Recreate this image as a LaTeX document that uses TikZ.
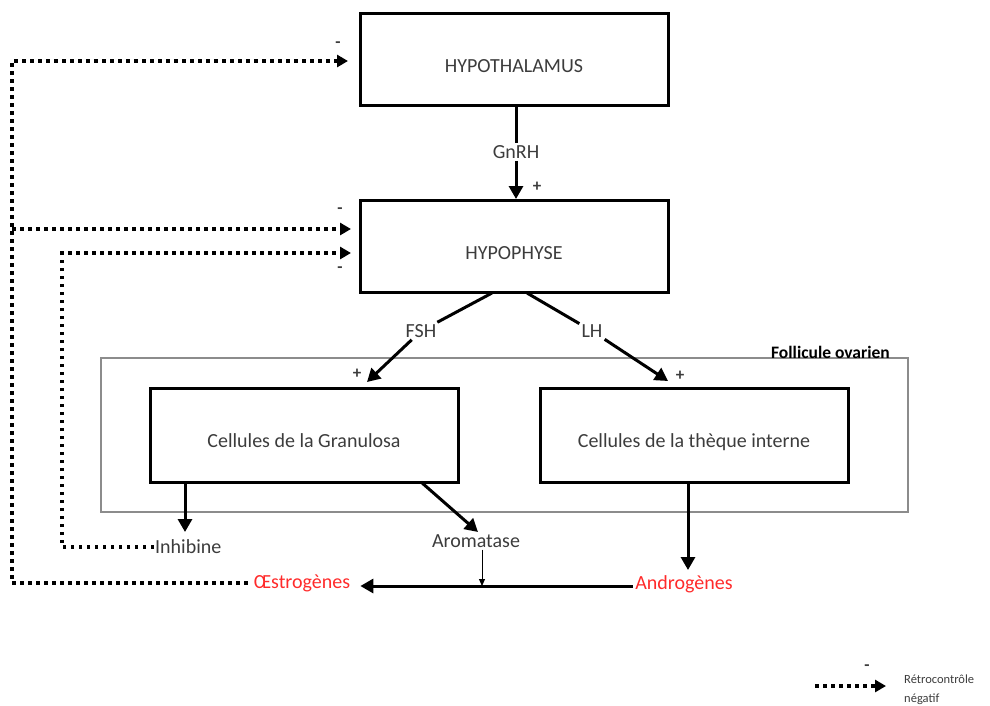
\documentclass[tikz,border=0pt]{standalone}
\usepackage{fontspec}
\setmainfont{Carlito}
\usetikzlibrary{arrows.meta,calc}
\definecolor{txt}{HTML}{3C3C3C}
\definecolor{redtxt}{HTML}{FF2A2A}
\begin{document}
\begin{tikzpicture}[x=1pt,y=-1pt,
  box/.style={draw, line width=3pt, minimum width=308pt, minimum height=92pt, inner sep=0pt, text height=25pt, text depth=0pt, font=\fontsize{20}{24}\selectfont, text=txt},
  lbl/.style={font=\fontsize{20}{24}\selectfont, text=txt, inner sep=2pt},
  redlbl/.style={lbl, text=redtxt},
  sgn/.style={font=\bfseries\fontsize{17}{19}\selectfont, text=txt, inner sep=0pt},
  arr/.style={line width=3pt, -{Triangle[length=13pt,width=14pt]}},
  thinarr/.style={line width=1pt, -{Triangle[length=7pt,width=6pt]}},
  fb/.style={line width=3.5pt, dash pattern=on 3.5pt off 4.5pt, -{Triangle[length=11pt,width=12pt]}},
]
\useasboundingbox (0,0) rectangle (990,705);

% follicle frame
\node[draw=black!45, line width=1.2pt, minimum width=807pt, minimum height=154pt, inner sep=0pt] (foll) at (504.5,435) {};
\node[font=\bfseries\fontsize{17.5}{20}\selectfont, text=black, anchor=south east, inner sep=1pt] (folllbl) at (891,360) {Follicule ovarien};

% boxes
\node[box] (hypo) at (514,59.5) {HYPOTHALAMUS};
\node[box] (hyp2) at (514,246.5) {HYPOPHYSE};
\node[box, minimum height=94pt] (gran) at (304,435) {Cellules de la Granulosa};
\node[box, minimum height=94pt] (theq) at (694,435) {Cellules de la thèque interne};

% labels
\node[lbl] (gnrh) at (516,152) {GnRH};
\node[lbl] (fsh) at (421,331) {FSH};
\node[lbl] (lh) at (592,331) {LH};
\node[lbl, anchor=west, inner sep=1pt] (inhib) at (154,547) {Inhibine};
\node[lbl] (aroma) at (476,541) {Aromatase};
\node[redlbl] (estro) at (302,583) {Œstrogènes};
\node[redlbl] (andro) at (684,584) {Androgènes};

% signs
\node[sgn] (p1) at (537,187) {+};
\node[sgn] (p2) at (357,374) {+};
\node[sgn] (p3) at (680,376) {+};
\node[sgn] (m1) at (338,45) {-};
\node[sgn] (m2) at (340,211) {-};
\node[sgn] (m3) at (340,270) {-};
\node[sgn] (m4) at (867,668) {-};

% coordinates
\coordinate (fshs) at (492,293);
\coordinate (fshe) at (367,382);
\coordinate (lhs) at (527,293);
\coordinate (lhe) at (668,381);
\coordinate (aros) at (421,482);
\coordinate (aroe) at (478,532);
\coordinate (inhs) at (185,482);
\coordinate (inhe) at (185,532);
\coordinate (anda) at (688,482);
\coordinate (ande) at (688,570);
\coordinate (ma) at (482,586);
\coordinate (ya) at (12,61);
\coordinate (yb) at (12,229);
\coordinate (yc) at (62,253);
\coordinate (ta) at (348,61);
\coordinate (tb) at (351,229);
\coordinate (tc) at (351,253);

% solid arrows
\draw[line width=3pt] (hypo.south -| gnrh.north) -- (gnrh.north);
\draw[arr] (gnrh.south) -- (gnrh.south |- hyp2.north);
\draw[line width=3pt] (fshs) -- (fsh);
\draw[arr] (fsh) -- (fshe);
\draw[line width=3pt] (lhs) -- (lh);
\draw[arr] (lh) -- (lhe);
\draw[arr] (inhs) -- (inhe);
\draw[arr] (aros) -- (aroe);
\draw[arr] (anda) -- (ande);
\draw[arr, shorten >=8pt] (andro.west |- ma) -- (estro.east |- ma);
\draw[thinarr] (aroma.south -| ma) -- (ma);

% feedback (dotted)
\draw[fb, shorten <=4pt] (estro.west) -| (ya) -- (ta);
\draw[fb] (yb) -- (tb);
\draw[fb] (inhib.west) -| (yc) -- (tc);

% legend
\node[font=\fontsize{12.5}{19}\selectfont, text=txt, align=left, anchor=west, inner sep=0pt] (lgt) at (904,690) {Rétrocontrôle\\négatif};
\coordinate (lg1) at (815,686);
\coordinate (lg2) at (886,686);
\draw[fb] (lg1) -- (lg2);
\end{tikzpicture}
\end{document}
